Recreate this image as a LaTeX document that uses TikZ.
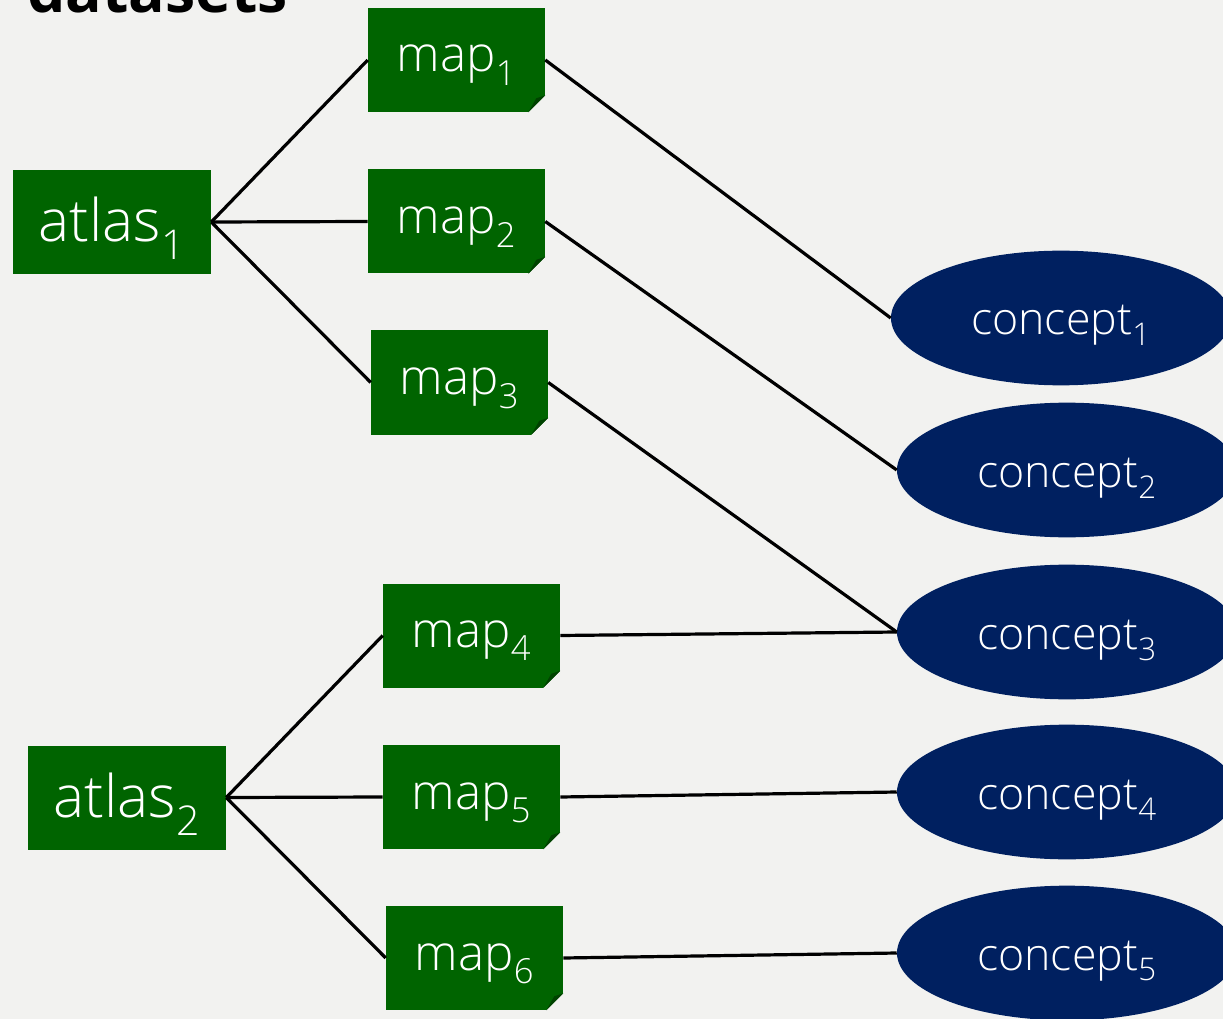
\documentclass[tikz,border=0pt]{standalone}
\usepackage{fontspec}
\setmainfont{Open Sans Light}
\newfontfamily\titlefont{Open Sans}
\usetikzlibrary{shapes.geometric}
\definecolor{bgc}{RGB}{242,242,240}
\definecolor{grn}{RGB}{0,100,0}
\definecolor{grnd}{RGB}{0,66,0}
\definecolor{blu}{RGB}{0,32,96}
\begin{document}
\begin{tikzpicture}[x=0.75pt,y=-0.75pt,
  mapbox/.style={rectangle, fill=grn, text=white, minimum width=132.75pt, minimum height=78pt, inner sep=0pt, text height=24pt, text depth=6pt, font=\fontsize{37}{44}\selectfont},
  atlasbox/.style={rectangle, fill=grn, text=white, minimum width=148.5pt, minimum height=78pt, inner sep=0pt, text height=36pt, text depth=6pt, font=\fontsize{44}{50}\selectfont},
  concept/.style={ellipse, fill=blu, text=white, minimum width=255pt, minimum height=101pt, inner sep=0pt, text height=31.5pt, text depth=6pt, font=\fontsize{33.5}{40}\selectfont},
  link/.style={line width=2.4pt, black},
  title/.style={font=\titlefont\fontsize{45.5}{56}\selectfont\bfseries, inner sep=0pt, anchor=base west}]
\fill[bgc] (0,0) rectangle (1223,1019);
\useasboundingbox (0,0) rectangle (1223,1019);
\node[title] (t) at (27,13) {datasets};
% nodes
\node[atlasbox] (a1) at (112,222) {atlas\textsubscript{1}};
\node[atlasbox] (a2) at (127,797.5) {atlas\textsubscript{2}};
\node[mapbox] (m1) at (456.5,60) {map\textsubscript{1}};
\node[mapbox] (m2) at (456.5,221.5) {map\textsubscript{2}};
\node[mapbox] (m3) at (459.5,382.5) {map\textsubscript{3}};
\node[mapbox] (m4) at (471.5,635.5) {map\textsubscript{4}};
\node[mapbox] (m5) at (471.5,797) {map\textsubscript{5}};
\node[mapbox] (m6) at (474.5,958) {map\textsubscript{6}};
\node[concept] (c1) at (1061,318) {concept\textsubscript{1}};
\node[concept] (c2) at (1067,470) {concept\textsubscript{2}};
\node[concept] (c3) at (1067,632) {concept\textsubscript{3}};
\node[concept] (c4) at (1067,792) {concept\textsubscript{4}};
\node[concept] (c5) at (1067,953) {concept\textsubscript{5}};
% folded corners
\foreach \m in {m1,m2,m3,m4,m5,m6}{
  \fill[bgc] ([shift={(-17,0)}]\m.south east) -- (\m.south east) -- ([shift={(0,-17)}]\m.south east) -- cycle;
  \fill[grnd] ([shift={(-17,0)}]\m.south east) -- ([shift={(0,-17)}]\m.south east) -- ([shift={(-9,-14)}]\m.south east) -- cycle;
}
% links
\draw[link] (a1.east) -- (m1.west);
\draw[link] (a1.east) -- (m2.west);
\draw[link] (a1.east) -- (m3.west);
\draw[link] (a2.east) -- (m4.west);
\draw[link] (a2.east) -- (m5.west);
\draw[link] (a2.east) -- (m6.west);
\draw[link] (m1.east) -- (c1.west);
\draw[link] (m2.east) -- (c2.west);
\draw[link] (m3.east) -- (c3.west);
\draw[link] (m4.east) -- (c3.west);
\draw[link] (m5.east) -- (c4.west);
\draw[link] (m6.east) -- (c5.west);
\end{tikzpicture}
\end{document}
